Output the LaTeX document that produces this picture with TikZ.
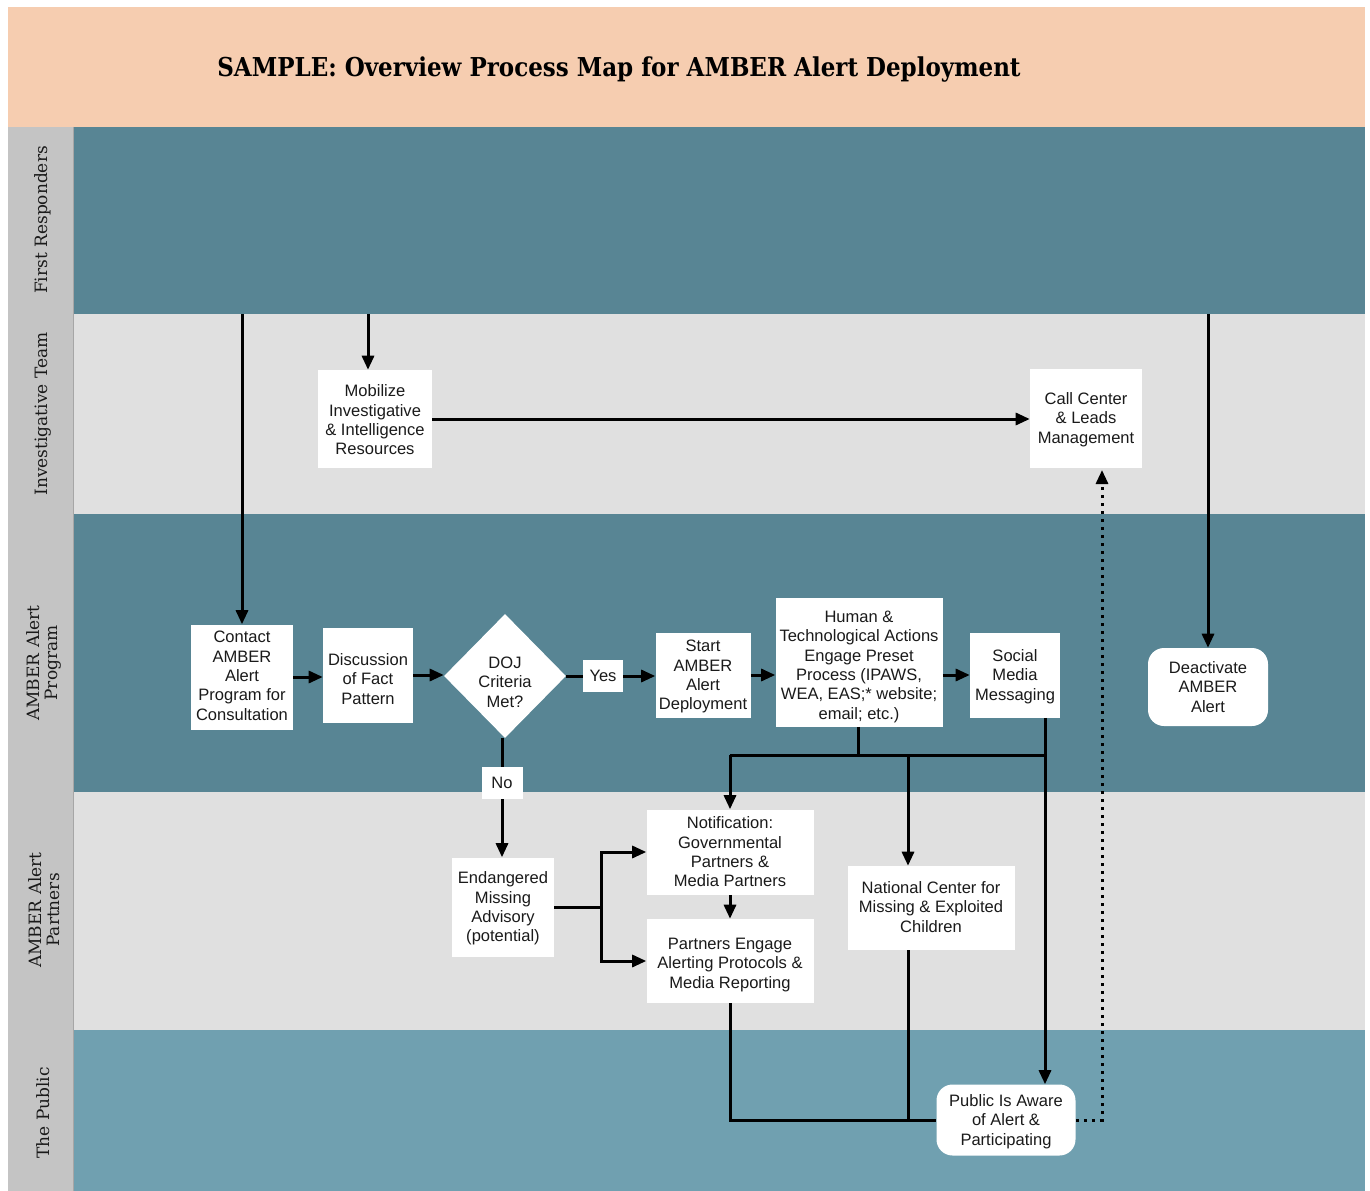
\documentclass[tikz,border=0pt]{standalone}
\usepackage{fontspec}
\setmainfont{Liberation Sans}
\newfontfamily\titlefont[FakeStretch=0.885]{DejaVu Serif}
\newfontfamily\lanefont{DejaVu Serif}
\usetikzlibrary{arrows.meta,shapes.geometric}
\newlength{\pxu}\setlength{\pxu}{0.75pt}
\newcommand{\tx}[2][0]{\raisebox{\dimexpr -4.5pt - #1\pxu\relax}[0pt][0pt]{\begin{tabular}{@{}c@{}}#2\end{tabular}}}
\definecolor{peach}{HTML}{F6CDB0}
\definecolor{tealdark}{HTML}{588594}
\definecolor{lgray}{HTML}{E0E0E0}
\definecolor{tealpub}{HTML}{70A0B0}
\definecolor{labgray}{HTML}{C4C4C4}
\definecolor{txt}{HTML}{1A1A1A}
\begin{document}
\begin{tikzpicture}[x=0.75pt,y=-0.75pt,
  box/.style={fill=white, inner sep=0pt, text=txt,
    font=\fontsize{12.4}{14.5}\selectfont},
  rbox/.style={box, rounded corners=12pt},
  lanelab/.style={rotate=90, align=center, text=txt,
    font=\lanefont\fontsize{12.75}{13.5}\selectfont},
  ln/.style={line width=2.25pt},
  arr/.style={ln, -{Triangle[length=10.5pt,width=9pt]}},
  dotl/.style={line width=2.25pt, dash pattern=on 2.25pt off 3.75pt}
]
\useasboundingbox (0,0) rectangle (1370,1191);
\fill[white] (0,0) rectangle (1370,1191);
% bands
\fill[peach] (8,7) rectangle (1365,127);
\fill[labgray] (8,127) rectangle (73,1191);
\fill[tealdark] (73,127) rectangle (1365,314);
\fill[lgray] (73,314) rectangle (1365,514);
\fill[tealdark] (73,514) rectangle (1365,792);
\fill[lgray] (73,792) rectangle (1365,1030);
\fill[tealpub] (73,1030) rectangle (1365,1191);
\draw[line width=0.75pt, color=black!35] (73,127) -- (73,1191);
% title
\node[font=\titlefont\bfseries\fontsize{19.5}{22}\selectfont, text=black] (title) at (619,69.5) {SAMPLE: Overview Process Map for AMBER Alert Deployment};
% lane labels
\node[lanelab] (l1) at (43,220) {First Responders};
\node[lanelab] (l2) at (43,414) {Investigative Team};
\node[lanelab] (l3) at (44,663) {AMBER Alert\\Program};
\node[lanelab] (l4) at (44,910) {AMBER Alert\\Partners};
\node[lanelab] (l5) at (43,1113) {The Public};
% nodes
\node[box, minimum width=114\pxu, minimum height=98\pxu] (mob) at (375,419) {\tx[1]{Mobilize\\Investigative\\\& Intelligence\\Resources}};
\node[box, minimum width=112\pxu, minimum height=99\pxu] (call) at (1086,418) {\tx{Call Center\\\& Leads\\Management}};
\node[box, minimum width=102\pxu, minimum height=105\pxu] (cont) at (242,677) {\tx[-1.5]{Contact\\AMBER\\Alert\\Program for\\Consultation}};
\node[box, minimum width=90\pxu, minimum height=95\pxu] (disc) at (368,675) {\tx[4]{Discussion\\of Fact\\Pattern}};
\node[box, diamond, aspect=1, minimum width=122\pxu, minimum height=124\pxu] (doj) at (505,676) {\tx[6]{DOJ\\Criteria\\Met?}};
\node[box, minimum width=40\pxu, minimum height=32\pxu] (yes) at (603,676) {\tx{Yes}};
\node[box, minimum width=95\pxu, minimum height=85\pxu] (start) at (703,675) {\tx{Start\\AMBER\\Alert\\Deployment}};
\node[box, minimum width=167\pxu, minimum height=129\pxu] (hum) at (859,662) {\tx[3]{Human \&\\Technological Actions\\Engage Preset\\Process (IPAWS,\\WEA, EAS;* website;\\email; etc.)}};
\node[box, minimum width=90\pxu, minimum height=85\pxu] (soc) at (1015,675) {\tx{Social\\Media\\Messaging}};
\node[rbox, minimum width=120\pxu, minimum height=78\pxu] (deac) at (1208,687) {\tx{Deactivate\\AMBER\\Alert}};
\node[box, minimum width=41\pxu, minimum height=32\pxu] (no) at (502,783) {\tx{No}};
\node[box, minimum width=102\pxu, minimum height=99\pxu] (endg) at (503,907) {\tx{Endangered\\Missing\\Advisory\\(potential)}};
\node[box, minimum width=167\pxu, minimum height=85\pxu] (notif) at (730,852) {\tx{Notification:\\Governmental\\Partners \&\\Media Partners}};
\node[box, minimum width=167\pxu, minimum height=84\pxu] (peng) at (730,961) {\tx[2]{Partners Engage\\Alerting Protocols \&\\Media Reporting}};
\node[box, minimum width=167\pxu, minimum height=84\pxu] (ncmec) at (931,908) {\tx[-1]{National Center for\\Missing \& Exploited\\Children}};
\node[rbox, minimum width=139\pxu, minimum height=71\pxu] (pub) at (1006,1120) {\tx{Public Is Aware\\of Alert \&\\Participating}};
% free-end coordinates
\coordinate (fr1) at (242,314);
\coordinate (fr2) at (368,314);
\coordinate (fr3) at (1208,314);
\coordinate (split) at (601,907);
\coordinate (busL) at (730,755);
\coordinate (busM) at (908,755);
\coordinate (busH) at (858,755);
\coordinate (busR) at (1045,755);
\coordinate (dotx) at (1102,470);
% connectors
\draw[arr] (fr1) -- (cont.north);
\draw[arr] (fr2) -- (fr2 |- mob.north);
\draw[arr] (fr3) -- (deac.north);
\draw[arr] (mob.east) -- (mob.east -| call.west);
\draw[arr] (cont.east) -- (cont.east -| disc.west);
\draw[arr] (disc.east) -- (disc.east -| doj.west);
\draw[ln] (doj.east) -- (yes.west);
\draw[arr] (yes.east) -- (yes.east -| start.west);
\draw[arr] (start.east) -- (start.east -| hum.west);
\draw[arr] (hum.east |- soc.west) -- (soc.west);
\draw[ln] (no.north |- doj.south) -- (no.north);
\draw[arr] (no.south) -- (no.south |- endg.north);
\draw[ln] (endg.east |- split) -- (split);
\draw[arr] (split) |- (notif.west);
\draw[arr] (split) |- (peng.west);
\draw[arr] (notif.south) -- (peng.north);
\draw[ln] (hum.south -| busH) -- (busH);
\draw[ln] (busL) -- (busR);
\draw[arr] (busL) -- (notif.north);
\draw[arr] (busM) -- (busM |- ncmec.north);
\draw[arr] (busR |- soc.south) -- (busR |- pub.north);
\draw[ln] (peng.south) |- (pub.west);
\draw[ln] (busM |- ncmec.south) -- (busM |- pub.west);
\draw[dotl, -{Triangle[length=10.5pt,width=9pt]}] (pub.east) -| (dotx);
\end{tikzpicture}
\end{document}
